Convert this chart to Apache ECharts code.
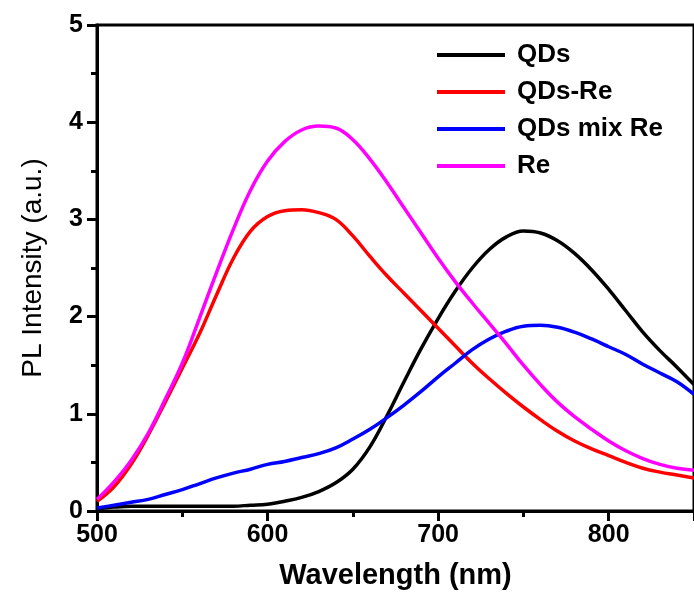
<!DOCTYPE html>
<html>
<head>
<meta charset="utf-8">
<script src="https://cdn.jsdelivr.net/npm/echarts@6/dist/echarts.min.js"></script>
<style>html,body{margin:0;padding:0;background:#fff;}#c{width:694px;height:596px;}</style>
</head>
<body>
<div id="c"></div>
<script>
const wavelengths = [500,510,520,530,540,550,560,570,580,590,600,610,620,630,640,650,660,670,680,690,700,710,720,730,740,750,760,770,780,790,800,810,820,830,840,850];
const qds = [0.02,0.04,0.05,0.05,0.05,0.05,0.05,0.05,0.05,0.06,0.07,0.10,0.14,0.20,0.29,0.43,0.66,0.98,1.33,1.67,1.98,2.26,2.50,2.69,2.82,2.88,2.86,2.78,2.65,2.48,2.28,2.06,1.84,1.65,1.48,1.30];
const qdsRe = [0.10,0.25,0.48,0.78,1.12,1.47,1.82,2.22,2.60,2.88,3.03,3.09,3.10,3.07,3.00,2.83,2.62,2.42,2.24,2.06,1.88,1.70,1.52,1.36,1.21,1.07,0.94,0.82,0.72,0.64,0.57,0.50,0.44,0.40,0.37,0.34];
const qdsMixRe = [0.03,0.06,0.09,0.12,0.17,0.22,0.28,0.34,0.39,0.43,0.48,0.51,0.55,0.59,0.65,0.74,0.84,0.96,1.09,1.23,1.38,1.52,1.66,1.77,1.85,1.90,1.91,1.89,1.84,1.77,1.69,1.61,1.51,1.42,1.33,1.20];
const re = [0.12,0.30,0.52,0.80,1.15,1.52,1.98,2.45,2.90,3.30,3.60,3.80,3.92,3.96,3.94,3.82,3.62,3.38,3.12,2.86,2.60,2.36,2.14,1.93,1.72,1.50,1.30,1.12,0.97,0.84,0.72,0.62,0.54,0.48,0.44,0.42];
const seriesNames = ['QDs','QDs-Re','QDs mix Re','Re'];
const seriesColors = ['#000000','#ff0000','#0000ff','#ff00ff'];
const seriesValues = [qds, qdsRe, qdsMixRe, re];

const FONT = 'Liberation Sans, Arial, sans-serif';
const chart = echarts.init(document.getElementById('c'));
const axisCommon = {
  axisLine: {show: true, onZero: false, lineStyle: {color: '#000', width: 3}},
  axisTick: {show: true, inside: false, length: 10, lineStyle: {color: '#000', width: 3}},
  minorTick: {show: true, splitNumber: 2, length: 6, lineStyle: {color: '#000', width: 3}},
  splitLine: {show: false},
  minorSplitLine: {show: false}
};
chart.setOption({
  animation: false,
  backgroundColor: '#fff',
  grid: {left: 97, top: 25, right: -7, bottom: 85, show: true, borderColor: '#000', borderWidth: 3, containLabel: false},
  legend: {
    orient: 'vertical', left: 432, top: 35,
    icon: 'rect', itemWidth: 68, itemHeight: 4, itemGap: 7,
    textStyle: {fontFamily: FONT, fontWeight: 'bold', fontSize: 26, color: '#000', lineHeight: 30, padding: [0,0,0,7]},
    data: seriesNames
  },
  xAxis: Object.assign({
    type: 'value', min: 500, max: 850, interval: 100,
    name: 'Wavelength (nm)', nameLocation: 'middle', nameGap: 50,
    nameTextStyle: {fontFamily: FONT, fontWeight: 'bold', fontSize: 29, color: '#000'},
    axisLabel: {fontFamily: FONT, fontWeight: 'bold', fontSize: 25, color: '#000', margin: 12, showMaxLabel: false}
  }, axisCommon),
  yAxis: Object.assign({
    type: 'value', min: 0, max: 5, interval: 1,
    name: 'PL Intensity (a.u.)', nameLocation: 'middle', nameGap: 50,
    nameTextStyle: {fontFamily: FONT, fontWeight: 'normal', fontSize: 28, color: '#000'},
    axisLabel: {fontFamily: FONT, fontWeight: 'bold', fontSize: 25, color: '#000', margin: 14}
  }, axisCommon),
  series: seriesNames.map((n, i) => ({
    name: n, type: 'line', smooth: 0.4, showSymbol: false, symbol: 'none',
    color: seriesColors[i],
    lineStyle: {color: seriesColors[i], width: 3.5},
    data: wavelengths.map((w, j) => [w, seriesValues[i][j]])
  }))
});
</script>
</body>
</html>
